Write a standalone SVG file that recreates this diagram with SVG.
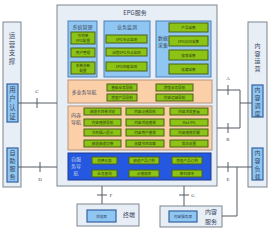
<svg xmlns="http://www.w3.org/2000/svg" width="279" height="234" viewBox="0 0 279 234">
<style>
text{font-family:"Noto Sans CJK SC","Noto Sans",sans-serif;fill:#3a4660;text-anchor:middle}
.outer{fill:#e8eef6;stroke:#7d8590;stroke-width:1}
.lb{fill:#8fc6f2;stroke:#4f7fb8;stroke-width:1}
.ib{fill:#8fc6f2;stroke:#35629e;stroke-width:1.2}
.gr{fill:#8cc415;stroke:#4d5e1c;stroke-width:1}
.or{fill:#fbd0a8;stroke:#b7957a;stroke-width:1}
.db{fill:#2458e0;stroke:#1b3b8c;stroke-width:1}
.g{font-size:3.6px;fill:#2f3a10}
.t5{font-size:5px}
.t6{font-size:6px}
.v{font-size:6.5px}
.cn{fill:none;stroke:#555a62;stroke-width:1}
.lt{font-size:5px;fill:#444;font-family:"Liberation Serif",serif}
</style>
<g id="epg">
<rect class="outer" x="57" y="5" width="160" height="181"/>
<text class="t6" x="135" y="15">EPG服务</text>
</g>
<g id="sysmgmt">
<rect class="lb" x="68" y="21" width="29" height="56"/>
<text class="t5" x="82.5" y="29">系统管理</text>
<rect class="gr" x="71" y="32" width="24" height="12"/>
<text class="g" x="83" y="37">节目单<tspan x="83" dy="5">EPG配置</tspan></text>
<rect class="gr" x="71" y="48" width="24" height="9"/>
<text class="g" x="83" y="54">用户管理</text>
<rect class="gr" x="71" y="62" width="24" height="12"/>
<text class="g" x="83" y="67">系统参数<tspan x="83" dy="5">配置</tspan></text>
</g>
<g id="monitor">
<rect class="lb" x="104" y="21" width="46" height="56"/>
<text class="t5" x="127" y="29">业务监测</text>
<rect class="gr" x="106" y="35" width="41" height="8"/>
<text class="g" x="126.5" y="40.5">EPG节点监测</text>
<rect class="gr" x="106" y="48" width="41" height="8"/>
<text class="g" x="126.5" y="53.5">出错EPG节点监测</text>
<rect class="gr" x="106" y="62" width="41" height="9"/>
<text class="g" x="126.5" y="68">EPG性能监测</text>
</g>
<g id="collect">
<rect class="lb" x="156" y="21" width="55" height="56"/>
<text class="t5" x="163" y="40">数据<tspan x="163" dy="7">采集</tspan></text>
<rect class="gr" x="169" y="23" width="39" height="9"/>
<text class="g" x="188.5" y="29">产品采集</text>
<rect class="gr" x="169" y="36" width="39" height="10"/>
<text class="g" x="188.5" y="42.5">EPG访问采集</text>
<rect class="gr" x="169" y="50" width="39" height="10"/>
<text class="g" x="188.5" y="56.5">搜索采集</text>
<rect class="gr" x="169" y="64" width="39" height="10"/>
<text class="g" x="188.5" y="70.5">收藏采集</text>
</g>
<g id="multinav">
<rect class="or" x="68" y="80" width="144" height="23"/>
<text class="t5" x="84" y="94">多业务导航</text>
<rect class="gr" x="107" y="84" width="30" height="7"/>
<text class="g" x="122" y="89">基础业务导航</text>
<rect class="gr" x="107" y="94" width="30" height="7"/>
<text class="g" x="122" y="99">增值产品导航</text>
<rect class="gr" x="156" y="84" width="37" height="7"/>
<text class="g" x="174.5" y="89">增值业务导航</text>
<rect class="gr" x="156" y="94" width="37" height="7"/>
<text class="g" x="174.5" y="99">内容运营导航</text>
</g>
<g id="contentnav">
<rect class="or" x="68" y="106" width="144" height="44"/>
<text class="t5" x="76" y="117">内容<tspan x="76" dy="7">导航</tspan></text>
<rect class="gr" x="84" y="108" width="37" height="7"/><text class="g" x="102.5" y="113">频道节目单浏览</text>
<rect class="gr" x="126" y="108" width="38" height="7"/><text class="g" x="145" y="113">内容点播导航</text>
<rect class="gr" x="170" y="108" width="38" height="7"/><text class="g" x="189" y="113">内容浏览查看</text>
<rect class="gr" x="84" y="119" width="37" height="7"/><text class="g" x="102.5" y="124">内容播放导航</text>
<rect class="gr" x="126" y="119" width="38" height="7"/><text class="g" x="145" y="124">内容浏览播放</text>
<rect class="gr" x="170" y="119" width="38" height="7"/><text class="g" x="189" y="124">Mail/PG</text>
<rect class="gr" x="84" y="129" width="37" height="7"/><text class="g" x="102.5" y="134">节目插入提示</text>
<rect class="gr" x="126" y="129" width="38" height="7"/><text class="g" x="145" y="134">内容用户播放</text>
<rect class="gr" x="170" y="129" width="38" height="7"/><text class="g" x="189" y="134">内容播放提醒</text>
<rect class="gr" x="84" y="140" width="37" height="7"/><text class="g" x="102.5" y="145">频道频道切换</text>
<rect class="gr" x="126" y="140" width="38" height="7"/><text class="g" x="145" y="145">收藏节目加载</text>
<rect class="gr" x="170" y="140" width="38" height="7"/><text class="g" x="189" y="145">常见设置</text>
</g>
<g id="selfnav">
<rect class="db" x="68" y="153" width="143" height="27"/>
<text class="t5" x="76" y="161" style="fill:#c8d3ea">自服<tspan x="76" dy="7">务导</tspan><tspan x="76" dy="7">航</tspan></text>
<rect class="gr" x="92" y="157" width="25" height="7"/><text class="g" x="104.5" y="162">消费记录</text>
<rect class="gr" x="129" y="157" width="30" height="7"/><text class="g" x="144" y="162">频道产品订购</text>
<rect class="gr" x="172" y="157" width="30" height="7"/><text class="g" x="187" y="162">增值产品订购</text>
<rect class="gr" x="92" y="170" width="25" height="7"/><text class="g" x="104.5" y="175">业务查询</text>
<rect class="gr" x="129" y="170" width="30" height="7"/><text class="g" x="144" y="175">点播搜索</text>
<rect class="gr" x="172" y="170" width="30" height="7"/><text class="g" x="187" y="175">密码修改</text>
</g>
<g id="ops">
<rect class="outer" x="3" y="22" width="18" height="165"/>
<text class="v" x="12" y="38">运<tspan x="12" dy="8.5">营</tspan><tspan x="12" dy="8.5">支</tspan><tspan x="12" dy="8.5">撑</tspan></text>
<rect class="ib" x="7" y="84" width="11" height="38"/>
<text class="v" x="12.5" y="92">用<tspan x="12.5" dy="9">户</tspan><tspan x="12.5" dy="9">认</tspan><tspan x="12.5" dy="9">证</tspan></text>
<rect class="ib" x="7" y="148" width="11" height="34"/>
<text class="t6" x="12.5" y="155">自<tspan x="12.5" dy="8">助</tspan><tspan x="12.5" dy="8">服</tspan><tspan x="12.5" dy="8">务</tspan></text>
</g>
<g id="contentops">
<rect class="outer" x="248" y="22" width="19" height="165"/>
<text class="t6" x="257.5" y="48">内<tspan x="257.5" dy="7.5">容</tspan><tspan x="257.5" dy="7.5">运</tspan><tspan x="257.5" dy="7.5">营</tspan></text>
<rect class="ib" x="252" y="85" width="11" height="32"/>
<text class="t6" x="257.5" y="92">内<tspan x="257.5" dy="8">容</tspan><tspan x="257.5" dy="8">调</tspan><tspan x="257.5" dy="8">度</tspan></text>
<rect class="ib" x="252" y="148" width="11" height="32"/>
<text class="t6" x="257.5" y="155">内<tspan x="257.5" dy="8">容</tspan><tspan x="257.5" dy="8">负</tspan><tspan x="257.5" dy="8">载</tspan></text>
</g>
<g id="terminal">
<rect class="outer" x="77" y="204" width="62" height="22"/>
<rect class="ib" x="87" y="210" width="29" height="12"/>
<text class="g" x="101.5" y="217.5" style="fill:#2a3a5a">浏览器</text>
<text class="t6" x="129" y="217">终端</text>
</g>
<g id="contentsvc">
<rect class="outer" x="160" y="206" width="62" height="21"/>
<rect class="ib" x="169" y="211" width="28" height="11"/>
<text class="g" x="183" y="218" style="fill:#2a3a5a">内容服务器</text>
<text class="t6" x="211" y="214">内容<tspan x="211" dy="10">服务</tspan></text>
</g>
<g id="connectors">
<path class="cn" d="M18 103H57M37 98V108"/>
<text class="lt" x="37" y="93">C</text>
<path class="cn" d="M18 167H57M40 162V172"/>
<text class="lt" x="40" y="181">D</text>
<path class="cn" d="M217 90H240V128H217M240 103H252M228 85V95M228 123V133"/>
<text class="lt" x="228" y="80">A</text>
<text class="lt" x="228" y="141">B</text>
<path class="cn" d="M217 167H252M237 167V216H222M228 162V172"/>
<text class="lt" x="228" y="181">E</text>
<path class="cn" d="M102 186V204M97 195H107"/>
<text class="lt" x="111" y="197">F</text>
<path class="cn" d="M184 186V206M179 195H189"/>
<text class="lt" x="193" y="197">G</text>
</g>
</svg>
